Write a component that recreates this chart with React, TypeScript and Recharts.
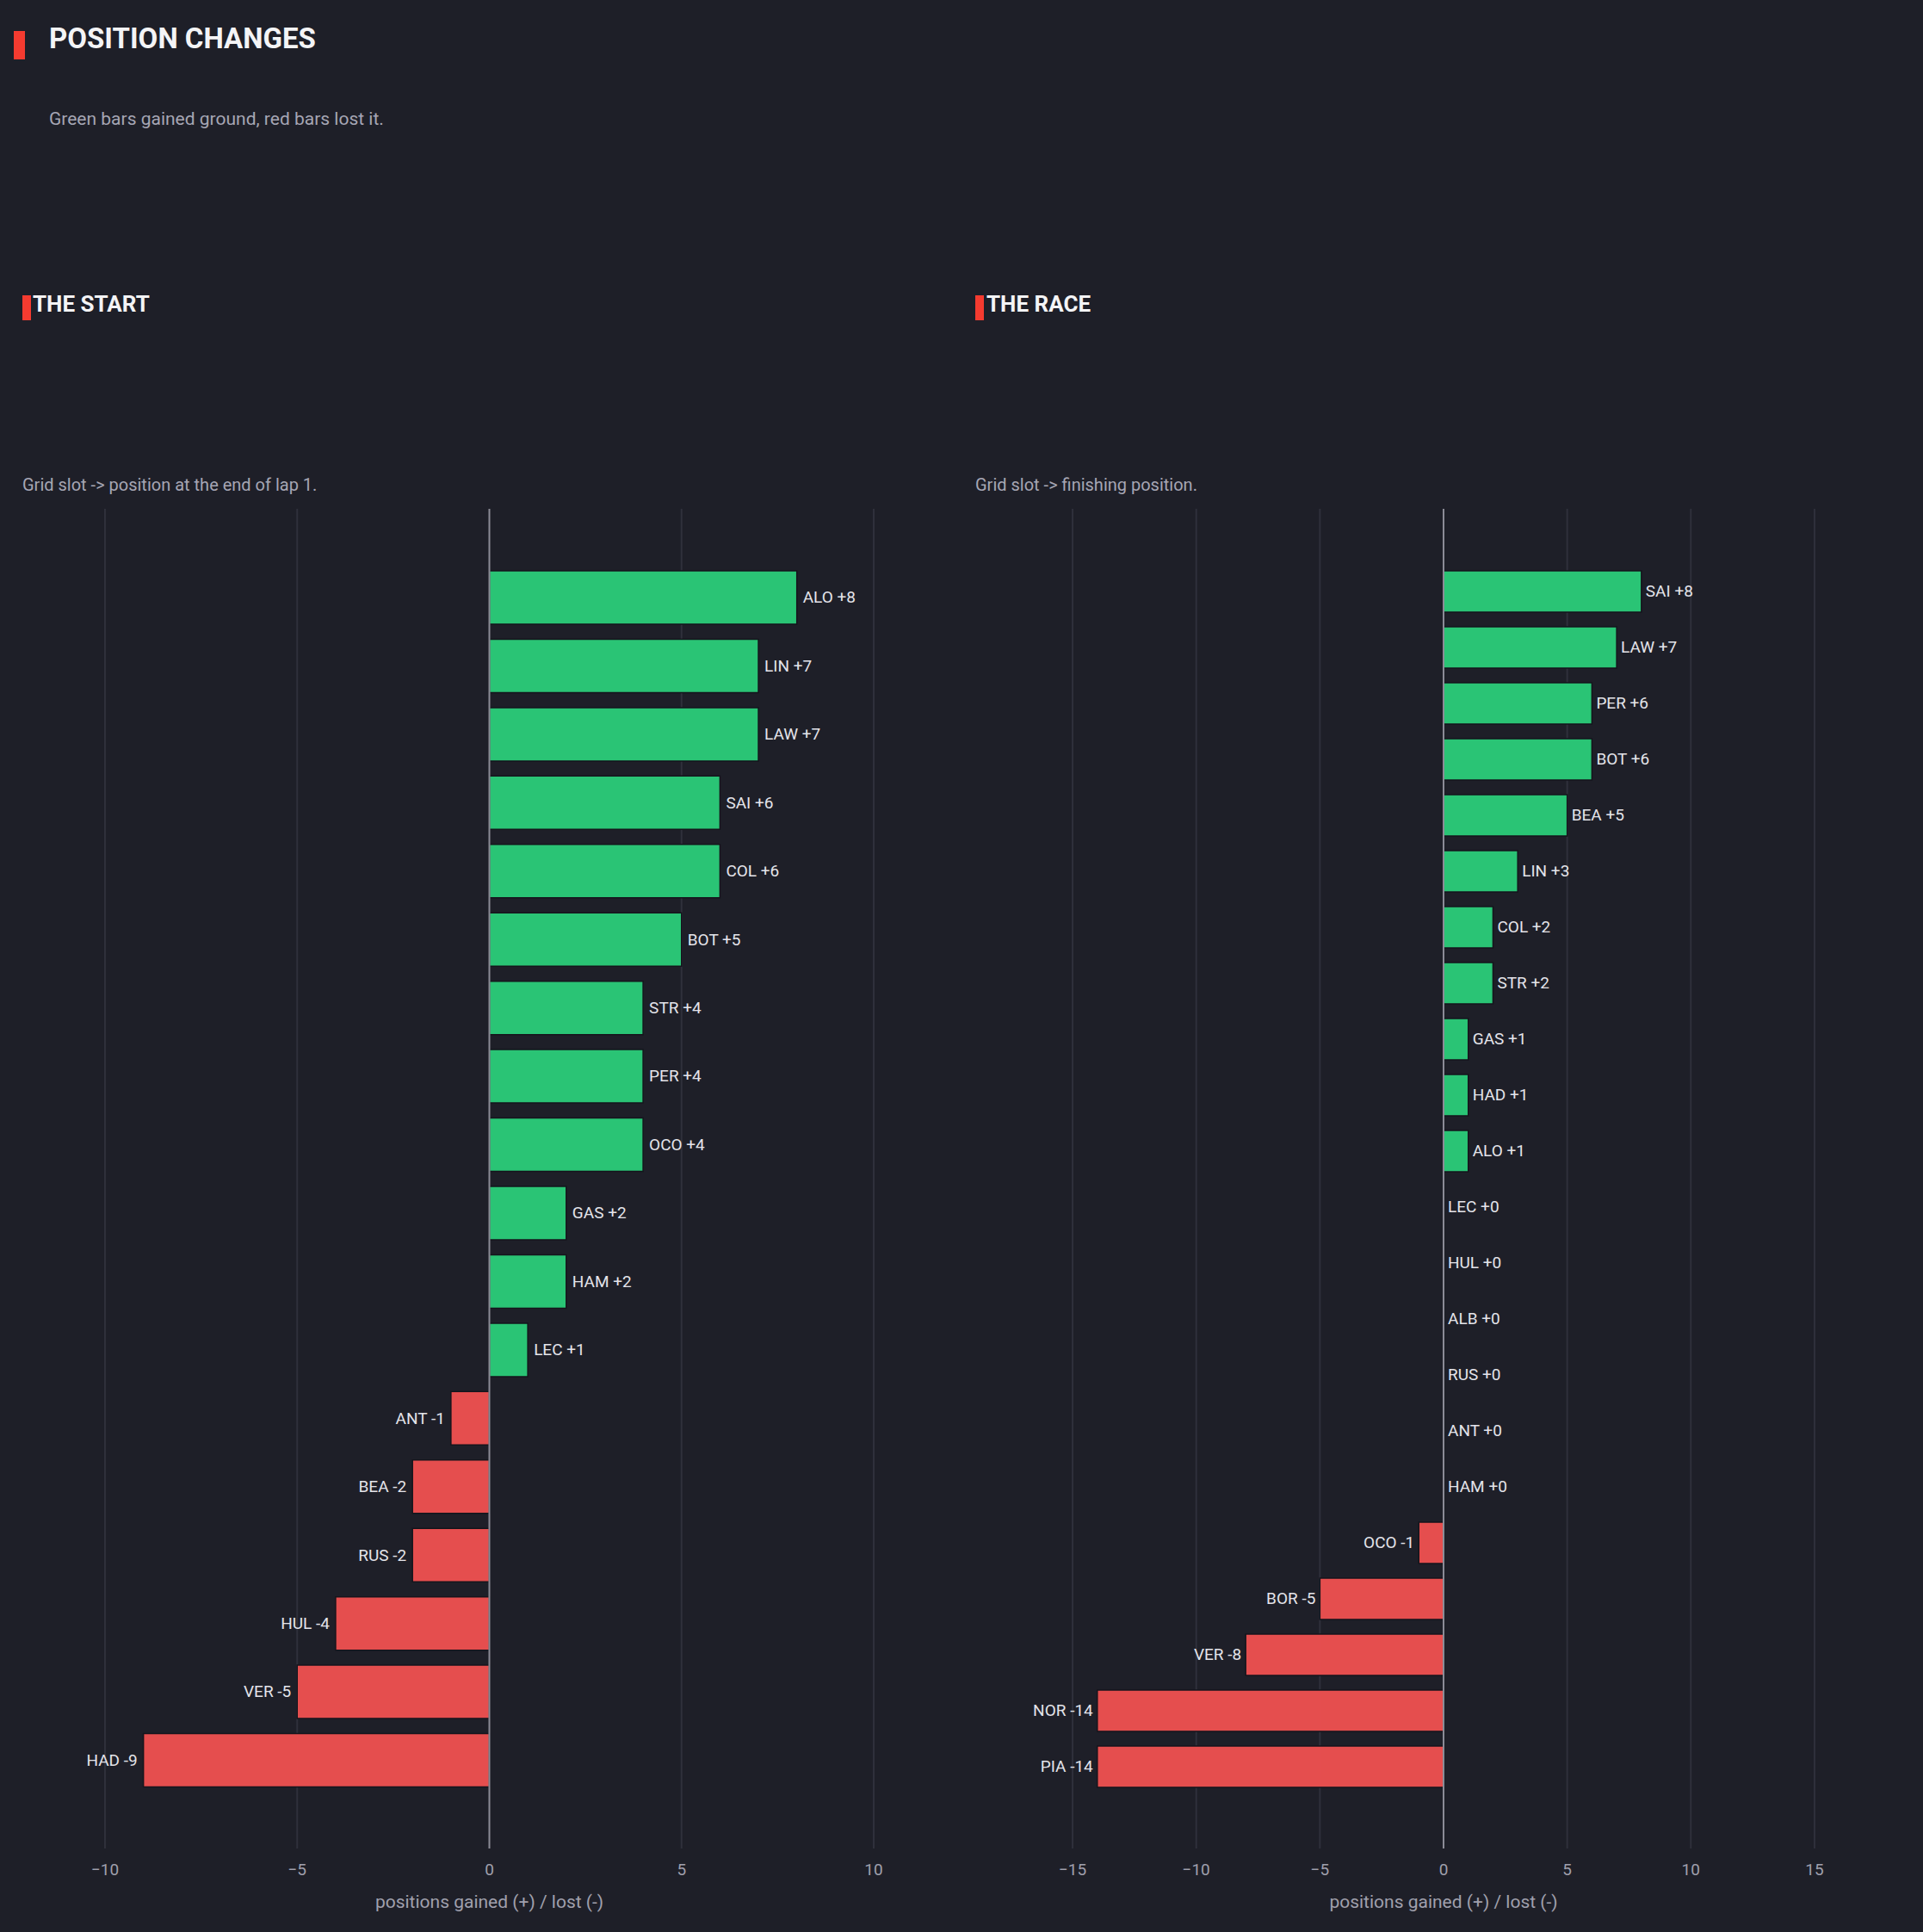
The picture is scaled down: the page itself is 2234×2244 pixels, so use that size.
import React from 'react';
import { ComposedChart, Bar, Scatter, XAxis, YAxis, ReferenceLine, CartesianGrid, Cell, Label } from 'recharts';

const startDrivers = ['ALO', 'LIN', 'LAW', 'SAI', 'COL', 'BOT', 'STR', 'PER', 'OCO', 'GAS', 'HAM', 'LEC', 'ANT', 'BEA', 'RUS', 'HUL', 'VER', 'HAD'];
const startChanges = [8, 7, 7, 6, 6, 5, 4, 4, 4, 2, 2, 1, -1, -2, -2, -4, -5, -9];
const raceDrivers = ['SAI', 'LAW', 'PER', 'BOT', 'BEA', 'LIN', 'COL', 'STR', 'GAS', 'HAD', 'ALO', 'LEC', 'HUL', 'ALB', 'RUS', 'ANT', 'HAM', 'OCO', 'BOR', 'VER', 'NOR', 'PIA'];
const raceChanges = [8, 7, 6, 6, 5, 3, 2, 2, 1, 1, 1, 0, 0, 0, 0, 0, 0, -1, -5, -8, -14, -14];
const startTicks = [-10, -5, 0, 5, 10];
const raceTicks = [-15, -10, -5, 0, 5, 10, 15];
const startDomain: [number, number] = [-12.15, 12.15];
const raceDomain: [number, number] = [-18.9, 18.9];

const BG = '#1e1f28';
const GREEN = '#2ac978';
const RED = '#eb5050';
const ACCENT = '#f53b30';
const FONT = 'Roboto, sans-serif';

type PanelProps = {
  drivers: string[];
  changes: number[];
  ticks: number[];
  domain: [number, number];
  left: number;
  width: number;
  marginLeft: number;
  marginRight: number;
  barSize: number;
  labelPad: number;
};

function Panel({ drivers, changes, ticks, domain, left, width, marginLeft, marginRight, barSize, labelPad }: PanelProps) {
  const data = drivers.map((d, i) => ({ name: d, value: changes[i] }));
  const renderLabel = (props: any) => {
    const { cx, cy, payload } = props;
    const v = payload.value;
    const txt = `${payload.name} ${v >= 0 ? '+' : ''}${v}`;
    return (
      <text
        x={v >= 0 ? cx + labelPad : cx - labelPad}
        y={cy}
        dy="0.35em"
        textAnchor={v >= 0 ? 'start' : 'end'}
        fill="#e4e4ea"
        fontSize={19}
        fontFamily={FONT}
      >
        {txt}
      </text>
    );
  };
  return (
    <div style={{ position: 'absolute', left, top: 0 }}>
      <ComposedChart
        width={width}
        height={2244}
        data={data}
        layout="vertical"
        margin={{ top: 591, right: marginRight, bottom: 0, left: marginLeft }}
      >
        <CartesianGrid horizontal={false} verticalValues={ticks.filter((t) => t !== 0)} stroke="#2f303b" strokeWidth={2} />
        <XAxis
          type="number"
          domain={domain}
          ticks={ticks}
          allowDataOverflow
          axisLine={false}
          tickLine={false}
          tickSize={0}
          tickMargin={18}
          height={97}
          tick={{ fill: '#a0a0ad', fontSize: 19, fontFamily: FONT }}
          tickFormatter={(v: number) => String(v).replace('-', '\u2212')}
        >
          <Label value="positions gained (+) / lost (-)" position="insideBottom" offset={28} fill="#a0a0ad" fontSize={21} fontFamily={FONT} />
        </XAxis>
        <YAxis type="category" dataKey="name" hide width={0} padding={{ top: 63, bottom: 63 }} />
        <Bar dataKey="value" barSize={barSize} isAnimationActive={false} stroke="#15151c" strokeWidth={1.5} fillOpacity={0.97}>
          {data.map((d, i) => (
            <Cell key={`c-${i}`} fill={d.value >= 0 ? GREEN : RED} />
          ))}
        </Bar>
        <ReferenceLine x={0} stroke="#8b8b96" strokeWidth={2} />
        <Scatter dataKey="value" isAnimationActive={false} shape={renderLabel} />
      </ComposedChart>
    </div>
  );
}

export default function App() {
  return (
    <div style={{ position: 'absolute', left: 0, top: 0, width: 2234, height: 2244, background: BG, overflow: 'hidden', fontFamily: FONT }}>
      <svg width={2234} height={2244} style={{ position: 'absolute', left: 0, top: 0 }}>
        <rect x={16} y={36} width={13} height={33} fill={ACCENT} />
        <text x={57} y={56} fill="#f4f4f6" fontSize={33} fontWeight={700} fontFamily={FONT}>POSITION CHANGES</text>
        <text x={57} y={145} fill="#a6a6b4" fontSize={21} fontFamily={FONT}>Green bars gained ground, red bars lost it.</text>

        <rect x={26} y={343} width={10} height={29} fill={ACCENT} />
        <text x={38} y={362} fill="#f4f4f6" fontSize={26} fontWeight={700} fontFamily={FONT}>THE START</text>
        <text x={26} y={570} fill="#a6a6b4" fontSize={20} fontFamily={FONT}>Grid slot -&gt; position at the end of lap 1.</text>

        <rect x={1133} y={343} width={10} height={29} fill={ACCENT} />
        <text x={1146} y={362} fill="#f4f4f6" fontSize={26} fontWeight={700} fontFamily={FONT}>THE RACE</text>
        <text x={1133} y={570} fill="#a6a6b4" fontSize={20} fontFamily={FONT}>Grid slot -&gt; finishing position.</text>
      </svg>
      <Panel
        drivers={startDrivers}
        changes={startChanges}
        ticks={startTicks}
        domain={startDomain}
        left={0}
        width={1122}
        marginLeft={26}
        marginRight={11}
        barSize={62}
        labelPad={7}
      />
      <Panel
        drivers={raceDrivers}
        changes={raceChanges}
        ticks={raceTicks}
        domain={raceDomain}
        left={1122}
        width={1112}
        marginLeft={12}
        marginRight={14}
        barSize={48}
        labelPad={5}
      />
    </div>
  );
}
